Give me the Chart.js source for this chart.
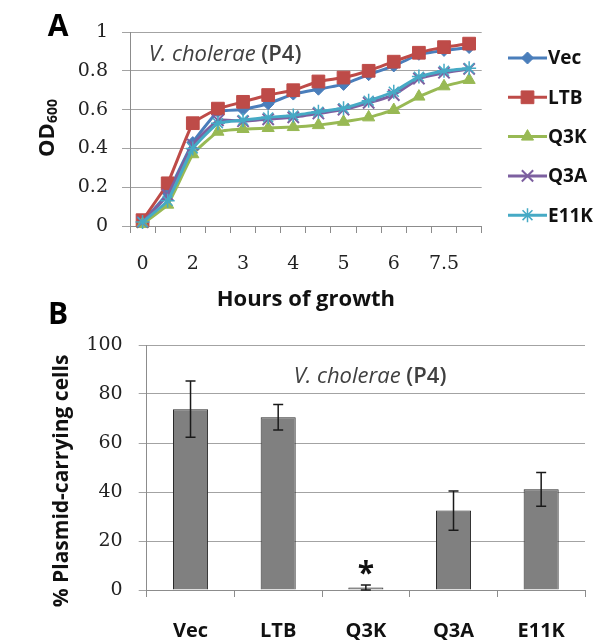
<!DOCTYPE html>
<html>
<head>
<meta charset="utf-8">
<script src="https://cdn.jsdelivr.net/npm/chart.js@4/dist/chart.umd.min.js"></script>
<style>
  html, body { margin: 0; padding: 0; background: #fff; }
  #wrap { position: relative; width: 600px; height: 644px; overflow: hidden; background: #fff; font-family: "Open Sans", Lato, sans-serif; }
  canvas { position: absolute; left: 0; }
  .lbl { position: absolute; transform: translate(-50%, -50%); white-space: nowrap; line-height: 1; }
  .rot { transform: translate(-50%, -50%) rotate(-90deg); }
  .panel { font-weight: bold; font-size: 30px; color: #000; }
  .note { font-size: 22px; color: #404040; }
  .note i { font-style: italic; }
  .note b { font-weight: 600; }
  .ytitle { font-weight: bold; font-size: 21px; color: #111; }
</style>
</head>
<body>
<div id="wrap">
  <canvas id="growth" width="600" height="315" style="top:0"></canvas>
  <canvas id="plasmid" width="600" height="329" style="top:315px"></canvas>
  <div class="lbl panel" style="left:58px; top:25px;">A</div>
  <div class="lbl panel" style="left:58px; top:313px;">B</div>
  <div class="lbl note" style="left:225px; top:52px;"><i>V. cholerae</i> <b>(P4)</b></div>
  <div class="lbl note" style="left:370px; top:374px;"><i>V. cholerae</i> <b>(P4)</b></div>
  <div class="lbl rot ytitle" style="left:46px; top:128px; font-size:22px;">OD<sub style="font-size:14px; vertical-align:-3px;">600</sub></div>
  <div class="lbl rot ytitle" style="left:60px; top:481px;">% Plasmid-carrying cells</div>
</div>
<script>
// ---------- Panel A data ----------
const hourTickLabels = ["0", "", "2", "", "3", "", "4", "", "5", "", "6", "", "7.5", ""];
const seriesNames = ["Vec", "LTB", "Q3K", "Q3A", "E11K"];
const vecOD  = [0.02, 0.17, 0.43, 0.59, 0.60, 0.63, 0.68, 0.705, 0.73, 0.78, 0.825, 0.885, 0.905, 0.92];
const ltbOD  = [0.03, 0.22, 0.53, 0.605, 0.64, 0.675, 0.70, 0.745, 0.765, 0.80, 0.847, 0.893, 0.922, 0.94];
const q3kOD  = [0.01, 0.11, 0.37, 0.486, 0.50, 0.505, 0.51, 0.52, 0.537, 0.56, 0.598, 0.667, 0.72, 0.753];
const q3aOD  = [0.02, 0.16, 0.42, 0.545, 0.54, 0.55, 0.56, 0.58, 0.60, 0.635, 0.675, 0.76, 0.79, 0.81];
const e11kOD = [0.02, 0.13, 0.40, 0.53, 0.546, 0.56, 0.57, 0.589, 0.607, 0.646, 0.692, 0.77, 0.80, 0.813];

// ---------- Panel B data ----------
const strainLabels = ["Vec", "LTB", "Q3K", "Q3A", "E11K"];
const plasmidPct   = [73.8, 70.5, 1.0, 32.4, 41.1];
const plasmidErr   = [11.5, 5.2, 1.0, 8.0, 6.9];
const sigMarks     = ["", "", "*", "", ""];

const serifFont = "'DejaVu Serif', 'Liberation Serif', serif";
const sansFont = "'Open Sans', Lato, sans-serif";
const gridCol = '#a3a3a3';
const axisCol = '#8c8c8c';

function mkSeries(label, data, color, style, radius, bw, order) {
  return {
    label: label, data: data, borderColor: color, backgroundColor: color,
    pointBackgroundColor: color, pointBorderColor: color, pointStyle: style,
    pointRadius: radius, pointBorderWidth: bw, borderWidth: 3, tension: 0.1,
    clip: false, order: order
  };
}

const sideLegend = {
  id: 'sideLegend',
  afterDraw(chart) {
    const ctx = chart.ctx;
    chart.data.datasets.forEach((ds, i) => {
      const y = 58 + i * 39.3;
      ctx.save();
      ctx.strokeStyle = ds.borderColor; ctx.lineWidth = 3;
      ctx.beginPath(); ctx.moveTo(508, y); ctx.lineTo(547, y); ctx.stroke();
      ctx.fillStyle = ds.pointBackgroundColor; ctx.strokeStyle = ds.pointBorderColor;
      ctx.lineWidth = ds.pointBorderWidth;
      Chart.helpers.drawPoint(ctx, {pointStyle: ds.pointStyle, radius: ds.pointRadius, rotation: 0, borderWidth: ds.pointBorderWidth}, 527.5, y);
      ctx.fillStyle = '#111'; ctx.font = 'bold 19px ' + sansFont;
      ctx.textBaseline = 'middle'; ctx.textAlign = 'left';
      ctx.fillText(ds.label, 548, y + 1);
      ctx.restore();
    });
  }
};

new Chart(document.getElementById('growth'), {
  type: 'line',
  data: {
    labels: hourTickLabels,
    datasets: [
      mkSeries(seriesNames[0], vecOD, '#4a7ebb', 'rectRot', 6, 1, 5),
      mkSeries(seriesNames[1], ltbOD, '#be4b48', 'rect', 9, 1, 4),
      mkSeries(seriesNames[2], q3kOD, '#98b954', 'triangle', 7, 1, 3),
      mkSeries(seriesNames[3], q3aOD, '#7d60a0', 'crossRot', 8, 2, 2),
      mkSeries(seriesNames[4], e11kOD, '#46aac5', 'star', 7, 1.5, 1)
    ]
  },
  options: {
    responsive: false, animation: false, devicePixelRatio: 1,
    layout: { padding: { top: 32, right: 118.3, left: 0, bottom: 0 } },
    plugins: { legend: { display: false }, tooltip: { enabled: false } },
    scales: {
      x: {
        type: 'category', offset: true,
        grid: { offset: true, drawOnChartArea: false, tickLength: 7, color: axisCol },
        border: { color: axisCol },
        ticks: { autoSkip: false, maxRotation: 0, padding: 20, color: '#222', font: { family: serifFont, size: 19 } },
        title: { display: true, text: 'Hours of growth', color: '#111', font: { family: sansFont, weight: 'bold', size: 22 }, padding: { top: 0, bottom: 2 } },
        afterFit(s) { s.height = 89; }
      },
      y: {
        min: 0, max: 1,
        grid: { color: gridCol, tickLength: 8 },
        border: { color: axisCol },
        ticks: { stepSize: 0.2, padding: 14, color: '#222', font: { family: serifFont, size: 19 },
                 callback: (v) => String(Math.round(v * 10) / 10) },
        afterFit(s) { s.width = 130; }
      }
    }
  },
  plugins: [sideLegend]
});

const errorBars = {
  id: 'errorBars',
  afterDatasetsDraw(chart) {
    const ctx = chart.ctx;
    const meta = chart.getDatasetMeta(0);
    const ys = chart.scales.y;
    ctx.save();
    meta.data.forEach((bar, i) => {
      const v = plasmidPct[i], e = plasmidErr[i];
      const top = ys.getPixelForValue(v + e);
      const bot = ys.getPixelForValue(Math.max(0, v - e));
      ctx.strokeStyle = '#1a1a1a'; ctx.lineWidth = 1.5;
      ctx.beginPath();
      ctx.moveTo(bar.x, top); ctx.lineTo(bar.x, bot);
      ctx.moveTo(bar.x - 5, top); ctx.lineTo(bar.x + 5, top);
      ctx.moveTo(bar.x - 5, bot); ctx.lineTo(bar.x + 5, bot);
      ctx.stroke();
      if (sigMarks[i]) {
        ctx.fillStyle = '#111'; ctx.font = 'bold 30px ' + sansFont;
        ctx.textAlign = 'center'; ctx.textBaseline = 'alphabetic';
        ctx.fillText(sigMarks[i], bar.x, top - 2);
      }
    });
    ctx.restore();
  }
};

new Chart(document.getElementById('plasmid'), {
  type: 'bar',
  data: {
    labels: strainLabels,
    datasets: [{
      data: plasmidPct, backgroundColor: '#808080', borderColor: '#2a2a2a', borderWidth: 1,
      barPercentage: 0.4, categoryPercentage: 1.0
    }]
  },
  options: {
    responsive: false, animation: false, devicePixelRatio: 1,
    layout: { padding: { top: 30, right: 15, left: 0, bottom: 0 } },
    plugins: { legend: { display: false }, tooltip: { enabled: false } },
    scales: {
      x: {
        offset: true,
        grid: { offset: true, drawOnChartArea: false, tickLength: 7, color: axisCol },
        border: { color: axisCol },
        ticks: { padding: 22, color: '#111', font: { family: sansFont, weight: 'bold', size: 20 } },
        afterFit(s) { s.height = 54; }
      },
      y: {
        min: 0, max: 100,
        grid: { color: gridCol, tickLength: 8 },
        border: { color: axisCol },
        ticks: { stepSize: 20, padding: 16, color: '#222', font: { family: serifFont, size: 19 } },
        afterFit(s) { s.width = 146.7; }
      }
    }
  },
  plugins: [errorBars]
});
</script>
</body>
</html>
